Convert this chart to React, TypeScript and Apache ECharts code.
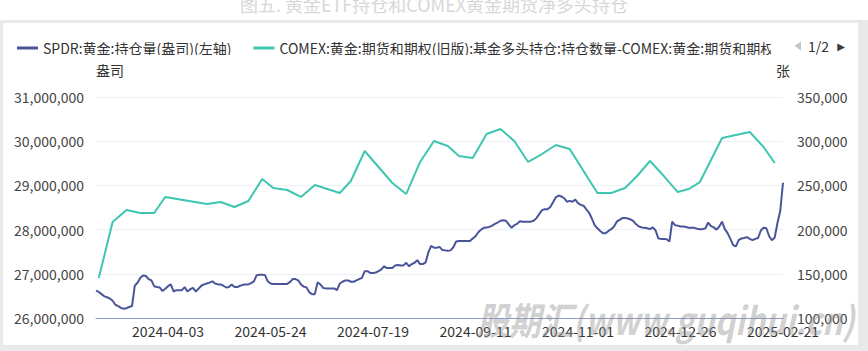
import React, { useEffect, useRef } from "react";
import * as echarts from "echarts";

// ---- data ----
const startDate = "2024-02-26";
const endDate = "2025-02-21";
const marketHolidays = [
  "2024-03-29", "2024-05-27", "2024-06-19", "2024-07-04", "2024-09-02",
  "2024-11-28", "2024-12-25", "2025-01-01", "2025-01-09", "2025-01-20", "2025-02-17",
];

// SPDR gold holdings, million ounces (left axis)
const spdrHoldingsMOz = [
  26.62, 26.59, 26.54, 26.49, 26.47, 26.44, 26.39, 26.30, 26.27, 26.23,
  26.21, 26.22, 26.25, 26.27, 26.73, 26.80, 26.91, 26.96, 26.95, 26.88,
  26.85, 26.72, 26.70, 26.69, 26.61, 26.66, 26.72, 26.76, 26.60, 26.63,
  26.63, 26.63, 26.70, 26.60, 26.65, 26.68, 26.60, 26.66, 26.73, 26.76,
  26.78, 26.80, 26.83, 26.78, 26.76, 26.76, 26.73, 26.69, 26.70, 26.76,
  26.70, 26.70, 26.73, 26.75, 26.76, 26.76, 26.79, 26.83, 26.97, 26.98,
  26.98, 26.97, 26.83, 26.78, 26.77, 26.77, 26.77, 26.77, 26.77, 26.77,
  26.81, 26.88, 26.88, 26.85, 26.76, 26.71, 26.69, 26.58, 26.54, 26.54,
  26.81, 26.76, 26.68, 26.67, 26.67, 26.67, 26.67, 26.63, 26.78, 26.82,
  26.85, 26.85, 26.82, 26.82, 26.85, 26.88, 26.91, 27.06, 27.06, 27.02,
  27.02, 27.03, 27.06, 27.10, 27.17, 27.13, 27.13, 27.13, 27.19, 27.20,
  27.19, 27.19, 27.25, 27.17, 27.22, 27.25, 27.31, 27.22, 27.22, 27.26,
  27.49, 27.63, 27.59, 27.59, 27.61,
  27.54, 27.53, 27.52, 27.53, 27.60, 27.73, 27.74, 27.74, 27.74, 27.74,
  27.74, 27.80, 27.85, 27.94, 28.00, 28.04, 28.05, 28.06, 28.09, 28.13,
  28.16, 28.20, 28.21, 28.20, 28.12, 28.04, 28.10, 28.13, 28.19, 28.18,
  28.18, 28.18, 28.18, 28.20, 28.26, 28.35, 28.44, 28.46, 28.46, 28.51,
  28.62, 28.73, 28.77, 28.75, 28.71, 28.63, 28.65, 28.63, 28.68, 28.60,
  28.56, 28.54, 28.46, 28.38, 28.25, 28.10, 28.03, 27.97, 27.92, 27.92,
  27.97, 28.01, 28.07, 28.18, 28.22, 28.26, 28.26, 28.25, 28.23, 28.19,
  28.12, 28.07, 28.05, 28.04, 28.03, 28.01, 28.05, 27.98, 27.80, 27.79,
  27.79, 27.78, 27.73, 28.18, 28.10, 28.09, 28.07, 28.07, 28.06, 28.04,
  28.04, 28.04, 28.02, 28.01, 28.01, 28.03, 28.16, 28.08, 28.05, 28.00,
  28.07, 28.18, 28.01, 27.92, 27.79, 27.65, 27.62, 27.76, 27.80, 27.81,
  27.83, 27.79, 27.76, 27.79, 27.81, 27.98, 28.04, 28.03, 27.85, 27.76,
  27.82, 28.15, 28.42, 29.06,
];

// COMEX gold managed-money net long (contracts, right axis), weekly report dates
const comexDates = [
  "2024-02-27", "2024-03-05", "2024-03-12", "2024-03-19", "2024-03-26", "2024-04-02",
  "2024-04-23", "2024-04-30", "2024-05-07", "2024-05-14", "2024-05-21", "2024-05-28",
  "2024-06-04", "2024-06-11", "2024-06-18", "2024-07-02", "2024-07-09", "2024-07-16",
  "2024-07-23", "2024-07-30", "2024-08-06", "2024-08-13", "2024-08-20", "2024-08-27",
  "2024-09-03", "2024-09-10", "2024-09-17", "2024-09-24", "2024-10-01", "2024-10-08",
  "2024-10-15", "2024-10-22", "2024-10-29", "2024-11-12", "2024-11-19", "2024-11-26",
  "2024-12-03", "2024-12-10", "2024-12-17", "2024-12-24", "2024-12-31", "2025-01-07",
  "2025-01-21", "2025-01-28", "2025-02-04", "2025-02-11", "2025-02-18",
];
const comexNetLong = [
  145200, 208600, 222200, 218800, 218800, 236900,
  229000, 231200, 225600, 232400, 257200, 247100,
  244800, 236900, 250400, 241400, 255000, 288900,
  270800, 252700, 240300, 276500, 300200, 294600,
  283300, 281000, 308100, 313800, 300200, 276500,
  285500, 295700, 291200, 241400, 241400, 247100,
  259500, 277600, 260600, 242500, 245900, 253800,
  303600, 307000, 310400, 293400, 275300,
];

const xLabelDates = ["2024-04-03", "2024-05-24", "2024-07-19", "2024-09-11", "2024-11-01", "2024-12-26", "2025-02-21"];

const seriesNames = [
  "SPDR:黄金:持仓量(盎司)(左轴)",
  "COMEX:黄金:期货和期权(旧版):基金多头持仓:持仓数量-COMEX:黄金:期货和期权(旧版):基金空头持仓:持仓数量",
];
const legendPageText = "1/2";

function tradingDays(): string[] {
  const out: string[] = [];
  const d = new Date(startDate + "T00:00:00Z");
  const end = new Date(endDate + "T00:00:00Z");
  while (d <= end) {
    const s = d.toISOString().slice(0, 10);
    const wd = d.getUTCDay();
    if (wd !== 0 && wd !== 6 && marketHolidays.indexOf(s) < 0) out.push(s);
    d.setUTCDate(d.getUTCDate() + 1);
  }
  return out;
}

export default function App() {
  const ref = useRef<HTMLDivElement>(null);
  useEffect(() => {
    if (!ref.current) return;
    const chart = echarts.init(ref.current, undefined, { renderer: "svg" });
    const cats = tradingDays();
    const spdr = cats.map((_, i) => (spdrHoldingsMOz[i] != null ? Math.round(spdrHoldingsMOz[i] * 1e6) : null));
    const comex = cats.map((c) => {
      const k = comexDates.indexOf(c);
      return k >= 0 ? comexNetLong[k] : null;
    });
    const font = "'Noto Sans CJK SC', 'Noto Sans', sans-serif";
    chart.setOption({
      animation: false,
      textStyle: { fontFamily: font },
      color: ["#4a5599", "#3ec6b1"],
      graphic: [
        {
          type: "text",
          left: "center",
          top: -5,
          style: {
            text: "图五. 黄金ETF持仓和COMEX黄金期货净多头持仓",
            fontSize: 18,
            fill: "#d8d8d8",
            fontFamily: font,
          },
        },
        // legend pager (prev / page text / next)
        {
          type: "polygon",
          z: 100,
          shape: { points: [[801, 41.5], [801, 50.5], [794.5, 46]] },
          style: { fill: "#c4c4c4" },
        },
        {
          type: "text",
          z: 100,
          x: 818.5,
          y: 46,
          style: {
            text: legendPageText,
            fontSize: 14,
            fill: "#333",
            align: "center",
            verticalAlign: "middle",
            fontFamily: font,
          },
        },
        {
          type: "text",
          z: 100,
          x: 841,
          y: 46,
          style: {
            text: "\u25B6",
            fontSize: 10,
            fill: "#3a3a3a",
            align: "center",
            verticalAlign: "middle",
            fontFamily: "'DejaVu Sans', sans-serif",
          },
        },
        {
          type: "text",
          x: 477,
          y: 299,
          scaleX: 0.84,
          z: 100,
          style: {
            text: "股期汇(www.guqihui.cn)",
            fontSize: 38,
            fontWeight: "bold",
            fontStyle: "italic",
            fill: "rgba(150,150,150,0.45)",
            fontFamily: font,
          },
        },
      ],
      legend: {
        type: "scroll",
        left: 12,
        right: 20,
        top: 36,
        icon: "rect",
        itemWidth: 21,
        itemHeight: 3,
        itemGap: 22,
        textStyle: { fontSize: 14, color: "#333", fontFamily: font },
        pageButtonPosition: "end",
        pageIconSize: 9,
        pageIconColor: "rgba(0,0,0,0)",
        pageIconInactiveColor: "rgba(0,0,0,0)",
        pageTextStyle: { fontSize: 14, color: "rgba(0,0,0,0)", fontFamily: font },
        pageButtonItemGap: 5,
        pageButtonGap: 38,
        data: seriesNames,
      },
      grid: { left: 96, right: 85, top: 97, bottom: 33, containLabel: false },
      xAxis: {
        type: "category",
        data: cats,
        boundaryGap: false,
        axisLine: { lineStyle: { color: "#8d97c3", width: 1 } },
        axisTick: { show: false },
        axisLabel: {
          interval: (_i: number, v: string) => xLabelDates.indexOf(v) >= 0,
          fontSize: 14,
          color: "#333",
          margin: 6,
          fontFamily: font,
        },
      },
      yAxis: [
        {
          type: "value",
          min: 26000000,
          max: 31000000,
          interval: 1000000,
          name: "盎司",
          nameGap: 20,
          nameTextStyle: { fontSize: 14, color: "#333", align: "left", fontFamily: font },
          axisLine: { show: false },
          axisTick: { show: false },
          axisLabel: { fontSize: 14, color: "#444", margin: 12, fontFamily: font },
          splitLine: { lineStyle: { color: "#eef0f6" } },
        },
        {
          type: "value",
          min: 100000,
          max: 350000,
          interval: 50000,
          name: "张",
          nameGap: 20,
          nameTextStyle: { fontSize: 14, color: "#333", fontFamily: font },
          axisLine: { show: false },
          axisTick: { show: false },
          axisLabel: { fontSize: 14, color: "#444", margin: 14, fontFamily: font },
          splitLine: { show: false },
        },
      ],
      series: [
        {
          name: seriesNames[0],
          type: "line",
          yAxisIndex: 0,
          data: spdr,
          showSymbol: false,
          symbol: "none",
          lineStyle: { width: 2 },
        },
        {
          name: seriesNames[1],
          type: "line",
          yAxisIndex: 1,
          data: comex,
          connectNulls: true,
          showSymbol: false,
          symbol: "none",
          lineStyle: { width: 2 },
        },
      ],
    });
    return () => chart.dispose();
  }, []);
  return (
    <div style={{ position: "fixed", left: 0, top: 0, width: 868, height: 351, background: "#fff" }}>
      <div style={{ position: "absolute", left: 0, top: 20, width: 868, height: 331, background: "#e9e9e9" }} />
      <div style={{ position: "absolute", left: 3, top: 23, width: 855, height: 322, background: "#fff" }} />
      <div ref={ref} style={{ position: "absolute", left: 0, top: 0, width: 868, height: 351 }} />
    </div>
  );
}
